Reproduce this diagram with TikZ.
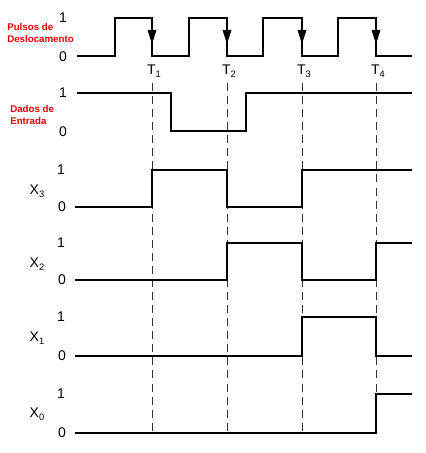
\documentclass[tikz,border=0pt]{standalone}
\usepackage{fontspec}
\setmainfont{Liberation Sans}
\newcommand{\mysub}[1]{\raisebox{-0.45ex}{\fontsize{7}{8}\selectfont #1}}
\begin{document}
\begin{tikzpicture}[x=0.75pt,y=-0.75pt,
  sig/.style={line width=1.5pt, line join=miter, line cap=butt},
  guide/.style={line width=0.75pt, dash pattern=on 6pt off 3.8pt, black!80},
  lvl/.style={font=\fontsize{10.5}{12}\selectfont, inner sep=0pt},
  tlbl/.style={font=\fontsize{10.5}{12}\selectfont, inner sep=0pt},
  xlbl/.style={font=\fontsize{10.5}{12}\selectfont, inner sep=0pt},
  redlbl/.style={font=\bfseries\fontsize{7.3}{8.4}\selectfont, text={rgb,255:red,230;green,0;blue,0}, align=left, inner sep=0pt, anchor=west},
  tip/.style={fill=black}
]
\useasboundingbox (0,0) rectangle (425,453);

% dashed time guides
\foreach \n/\x in {1/152,2/227,3/302,4/376}{
  \coordinate (t\n top) at (\x,83);
  \coordinate (t\n bot) at (\x,433);
  \draw[guide] (t\n top) -- (t\n bot);
}

% Clock
\node[redlbl] (clk) at (7,33) {Pulsos de\\Deslocamento};
\node[lvl] (c1) at (63,18) {1};
\node[lvl] (c0) at (63,57) {0};
\draw[sig] (77,56) -- (115,56) -- (115,18) -- (152,18) -- (152,56) -- (189,56) -- (189,18) -- (227,18) -- (227,56)
  -- (263,56) -- (263,18) -- (302,18) -- (302,56) -- (338,56) -- (338,18) -- (376,18) -- (376,56) -- (412,56);
\foreach \x in {152,227,302,376}{
  \fill[tip] (\x-4.5,30) -- (\x+4.5,30) -- (\x,44) -- cycle;
}
\node[tlbl] (T1) at (154,71) {T\mysub{1}};
\node[tlbl] (T2) at (229,71) {T\mysub{2}};
\node[tlbl] (T3) at (304,71) {T\mysub{3}};
\node[tlbl] (T4) at (378,71) {T\mysub{4}};

% Input data
\node[redlbl] (din) at (10,115) {Dados de\\Entrada};
\node[lvl] (d1) at (63,93) {1};
\node[lvl] (d0) at (63,132) {0};
\draw[sig] (77,93) -- (171,93) -- (171,131) -- (246,131) -- (246,93) -- (412,93);

% X3
\node[xlbl] (x3) at (37,191) {X\mysub{3}};
\node[lvl] (x31) at (61,170) {1};
\node[lvl] (x30) at (62,207) {0};
\draw[sig] (75,207) -- (152,207) -- (152,170) -- (227,170) -- (227,207) -- (302,207) -- (302,170) -- (412,170);

% X2
\node[xlbl] (x2) at (37,264) {X\mysub{2}};
\node[lvl] (x21) at (61,243) {1};
\node[lvl] (x20) at (62,280) {0};
\draw[sig] (75,280) -- (227,280) -- (227,243) -- (302,243) -- (302,280) -- (376,280) -- (376,243) -- (412,243);

% X1
\node[xlbl] (x1) at (37,338) {X\mysub{1}};
\node[lvl] (x11) at (61,317) {1};
\node[lvl] (x10) at (62,356) {0};
\draw[sig] (75,356) -- (302,356) -- (302,317) -- (376,317) -- (376,356) -- (412,356);

% X0
\node[xlbl] (x0) at (37,414) {X\mysub{0}};
\node[lvl] (x01) at (61,394) {1};
\node[lvl] (x00) at (62,433) {0};
\draw[sig] (75,433) -- (376,433) -- (376,394) -- (412,394);
\end{tikzpicture}
\end{document}
